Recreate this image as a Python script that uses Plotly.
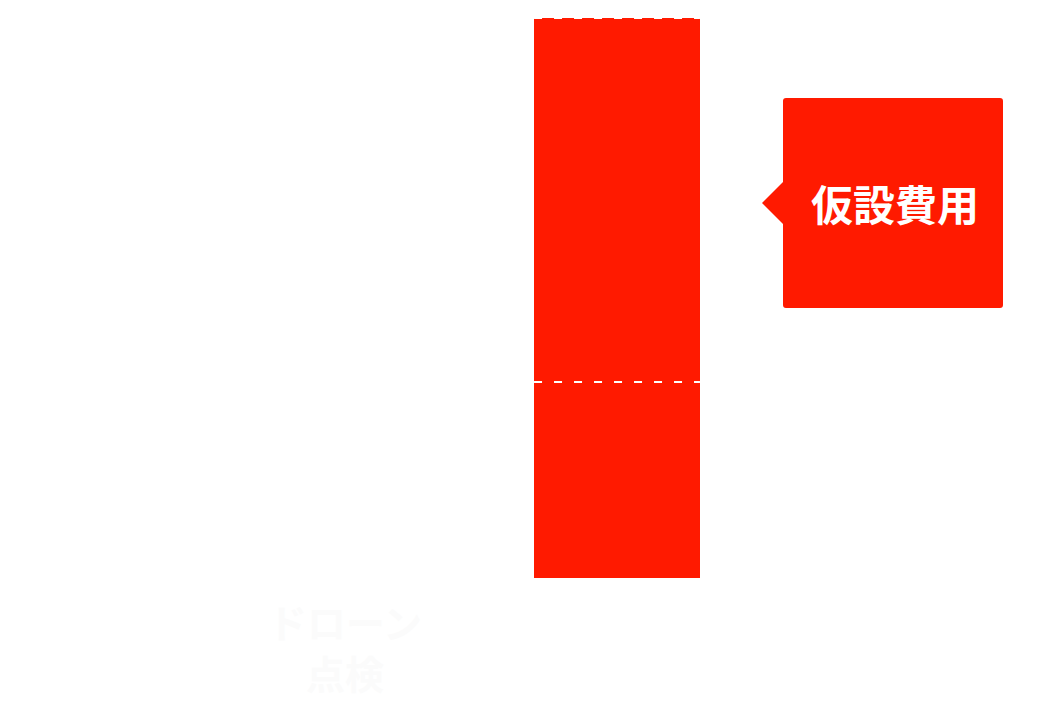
import plotly.graph_objects as go

# categories and stacked values
categories = ["ドローン<br>点検", " "]
lower_cost = [0, 35]
upper_cost = [0, 65]
callout_text = "仮設費用"

W, H = 1046, 705
OFF = 8  # page body margin
red = "#ff1a00"
jp_font = "Noto Sans CJK JP"

fig = go.Figure()
fig.add_trace(go.Bar(x=categories, y=lower_cost, marker_color=red,
                     marker_line_width=0, hoverinfo="skip"))
fig.add_trace(go.Bar(x=categories, y=upper_cost, marker_color=red,
                     marker_line_width=0, hoverinfo="skip"))

bar_w = 0.61
# dashed separators across the red bar
tops = [lower_cost[1], lower_cost[1] + upper_cost[1]]
for yv in tops:
    fig.add_shape(type="line", xref="x", yref="y",
                  x0=1 - bar_w / 2, x1=1 + bar_w / 2, y0=yv, y1=yv,
                  line=dict(color="white", width=2, dash="8px,12px"))


# callout box with pointer, in paper coords (picture pixels -> paper)
def px(x):
    return (x - OFF) / W


def py(y):
    return (578 - y) / 560


l, r, t, b, rr = 783, 1003, 98, 308, 3
path = (
    f"M {px(l + rr)} {py(t)} L {px(r - rr)} {py(t)} "
    f"Q {px(r)} {py(t)} {px(r)} {py(t + rr)} "
    f"L {px(r)} {py(b - rr)} Q {px(r)} {py(b)} {px(r - rr)} {py(b)} "
    f"L {px(l + rr)} {py(b)} Q {px(l)} {py(b)} {px(l)} {py(b - rr)} "
    f"L {px(l)} {py(224)} L {px(762)} {py(203)} L {px(l)} {py(182)} "
    f"L {px(l)} {py(t + rr)} Q {px(l)} {py(t)} {px(l + rr)} {py(t)} Z"
)
fig.add_shape(type="path", xref="paper", yref="paper", path=path,
              fillcolor=red, line_width=0, layer="below")
fig.add_annotation(xref="paper", yref="paper", x=px(895), y=py(202),
                   xanchor="center", yanchor="middle",
                   width=210, height=60, align="center",
                   text=callout_text, showarrow=False,
                   font=dict(family=jp_font, size=42, color="white",
                             weight="bold"))

cat0 = 345 - OFF
fig.update_layout(
    width=W, height=H,
    barmode="stack", bargap=1 - bar_w,
    showlegend=False,
    plot_bgcolor="rgba(0,0,0,0)", paper_bgcolor="white",
    margin=dict(l=0, r=0, t=18 - OFF, b=H - (578 - OFF)),
    xaxis=dict(range=[-cat0 / 272, (W - cat0) / 272], showgrid=False,
               zeroline=False, showline=False, ticks="",
               ticklabelstandoff=20,
               tickfont=dict(family=jp_font, size=39, color="#fbfbfb",
                             weight="bold")),
    yaxis=dict(range=[0, 100], visible=False),
)

fig.write_html("out.html")
